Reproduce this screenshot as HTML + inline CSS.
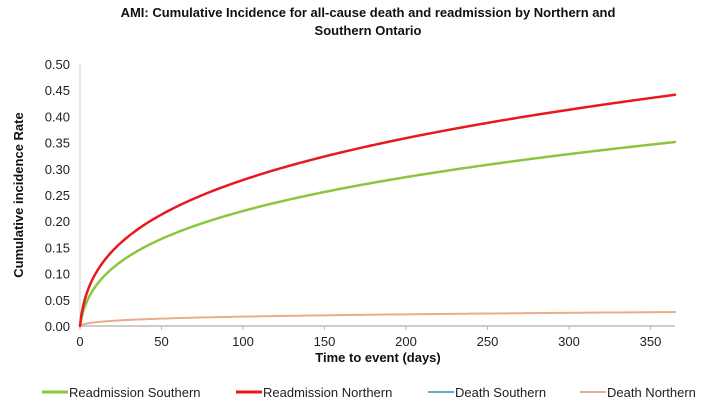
<!DOCTYPE html>
<html><head><meta charset="utf-8"><style>
body{margin:0;background:#fff;}
svg{display:block;font-family:"Liberation Sans",Arial,sans-serif;}
</style></head><body>
<svg id="c" width="720" height="411" viewBox="0 0 720 411">
<text x="368" y="17" text-anchor="middle" font-size="13" font-weight="bold" fill="#111">AMI: Cumulative Incidence for all-cause death and readmission by Northern and</text>
<text x="368" y="35" text-anchor="middle" font-size="13" font-weight="bold" fill="#111">Southern Ontario</text>
<line x1="80" y1="64" x2="80" y2="326" stroke="#ccc" stroke-width="1"/>
<line x1="80" y1="326" x2="675" y2="326" stroke="#bbb" stroke-width="1.5"/>
<g id="yt" font-size="13" fill="#222" text-anchor="end"></g>
<g id="xt" font-size="13" fill="#222" text-anchor="middle"></g>
<text transform="translate(23,195) rotate(-90)" text-anchor="middle" font-size="13" font-weight="bold" fill="#111">Cumulative incidence Rate</text>
<text x="378" y="362" text-anchor="middle" font-size="13" font-weight="bold" fill="#111">Time to event (days)</text>
<g id="series" fill="none" stroke-linejoin="round" stroke-linecap="round"></g>
<g font-size="13" fill="#222">
<line x1="42" y1="392" x2="68" y2="392" stroke="#8cc63f" stroke-width="3"/><text x="69" y="397">Readmission Southern</text>
<line x1="236" y1="392" x2="262" y2="392" stroke="#e8191e" stroke-width="3"/><text x="263" y="397">Readmission Northern</text>
<line x1="428" y1="392" x2="454" y2="392" stroke="#6fa8c8" stroke-width="2"/><text x="455" y="397">Death Southern</text>
<line x1="580" y1="392" x2="606" y2="392" stroke="#e8ae88" stroke-width="2"/><text x="607" y="397">Death Northern</text>
</g>
</svg>
<script>
var NS="http://www.w3.org/2000/svg";
function X(t){return 80+t*1.63;}function Y(v){return 326-v*524;}
var yt=document.getElementById("yt");
for(var i=0;i<=10;i++){var v=i*0.05;var e=document.createElementNS(NS,"text");e.setAttribute("x",70);e.setAttribute("y",Y(v)+5);e.textContent=v.toFixed(2);yt.appendChild(e);}
var xt=document.getElementById("xt");
for(var t=0;t<=350;t+=50){var e=document.createElementNS(NS,"text");e.setAttribute("x",X(t));e.setAttribute("y",346);e.textContent=t;xt.appendChild(e);
var l=document.createElementNS(NS,"line");l.setAttribute("x1",X(t));l.setAttribute("x2",X(t));l.setAttribute("y1",326);l.setAttribute("y2",330);l.setAttribute("stroke","#bbb");xt.appendChild(l);}
var s=document.getElementById("series");
function curve(A,c,b,col,w){
 var d="M"+X(0)+","+Y(0);
 for(var t=0.25;t<=365.01;t+=(t<20?0.25:1)){d+=" L"+X(t).toFixed(2)+","+Y(A*(Math.pow(t+c,b)-Math.pow(c,b))).toFixed(2);}
 var p=document.createElementNS(NS,"path");p.setAttribute("d",d);p.setAttribute("stroke",col);p.setAttribute("stroke-width",w);s.appendChild(p);}
curve(0.0118,1,0.2,"#6fa8c8",1.5);
curve(0.0118,1,0.2,"#e8ae88",2);
curve(0.0912,1.3,0.27,"#8cc63f",2.5);
curve(0.1125,1,0.27,"#e8191e",2.5);
</script>
</body></html>
